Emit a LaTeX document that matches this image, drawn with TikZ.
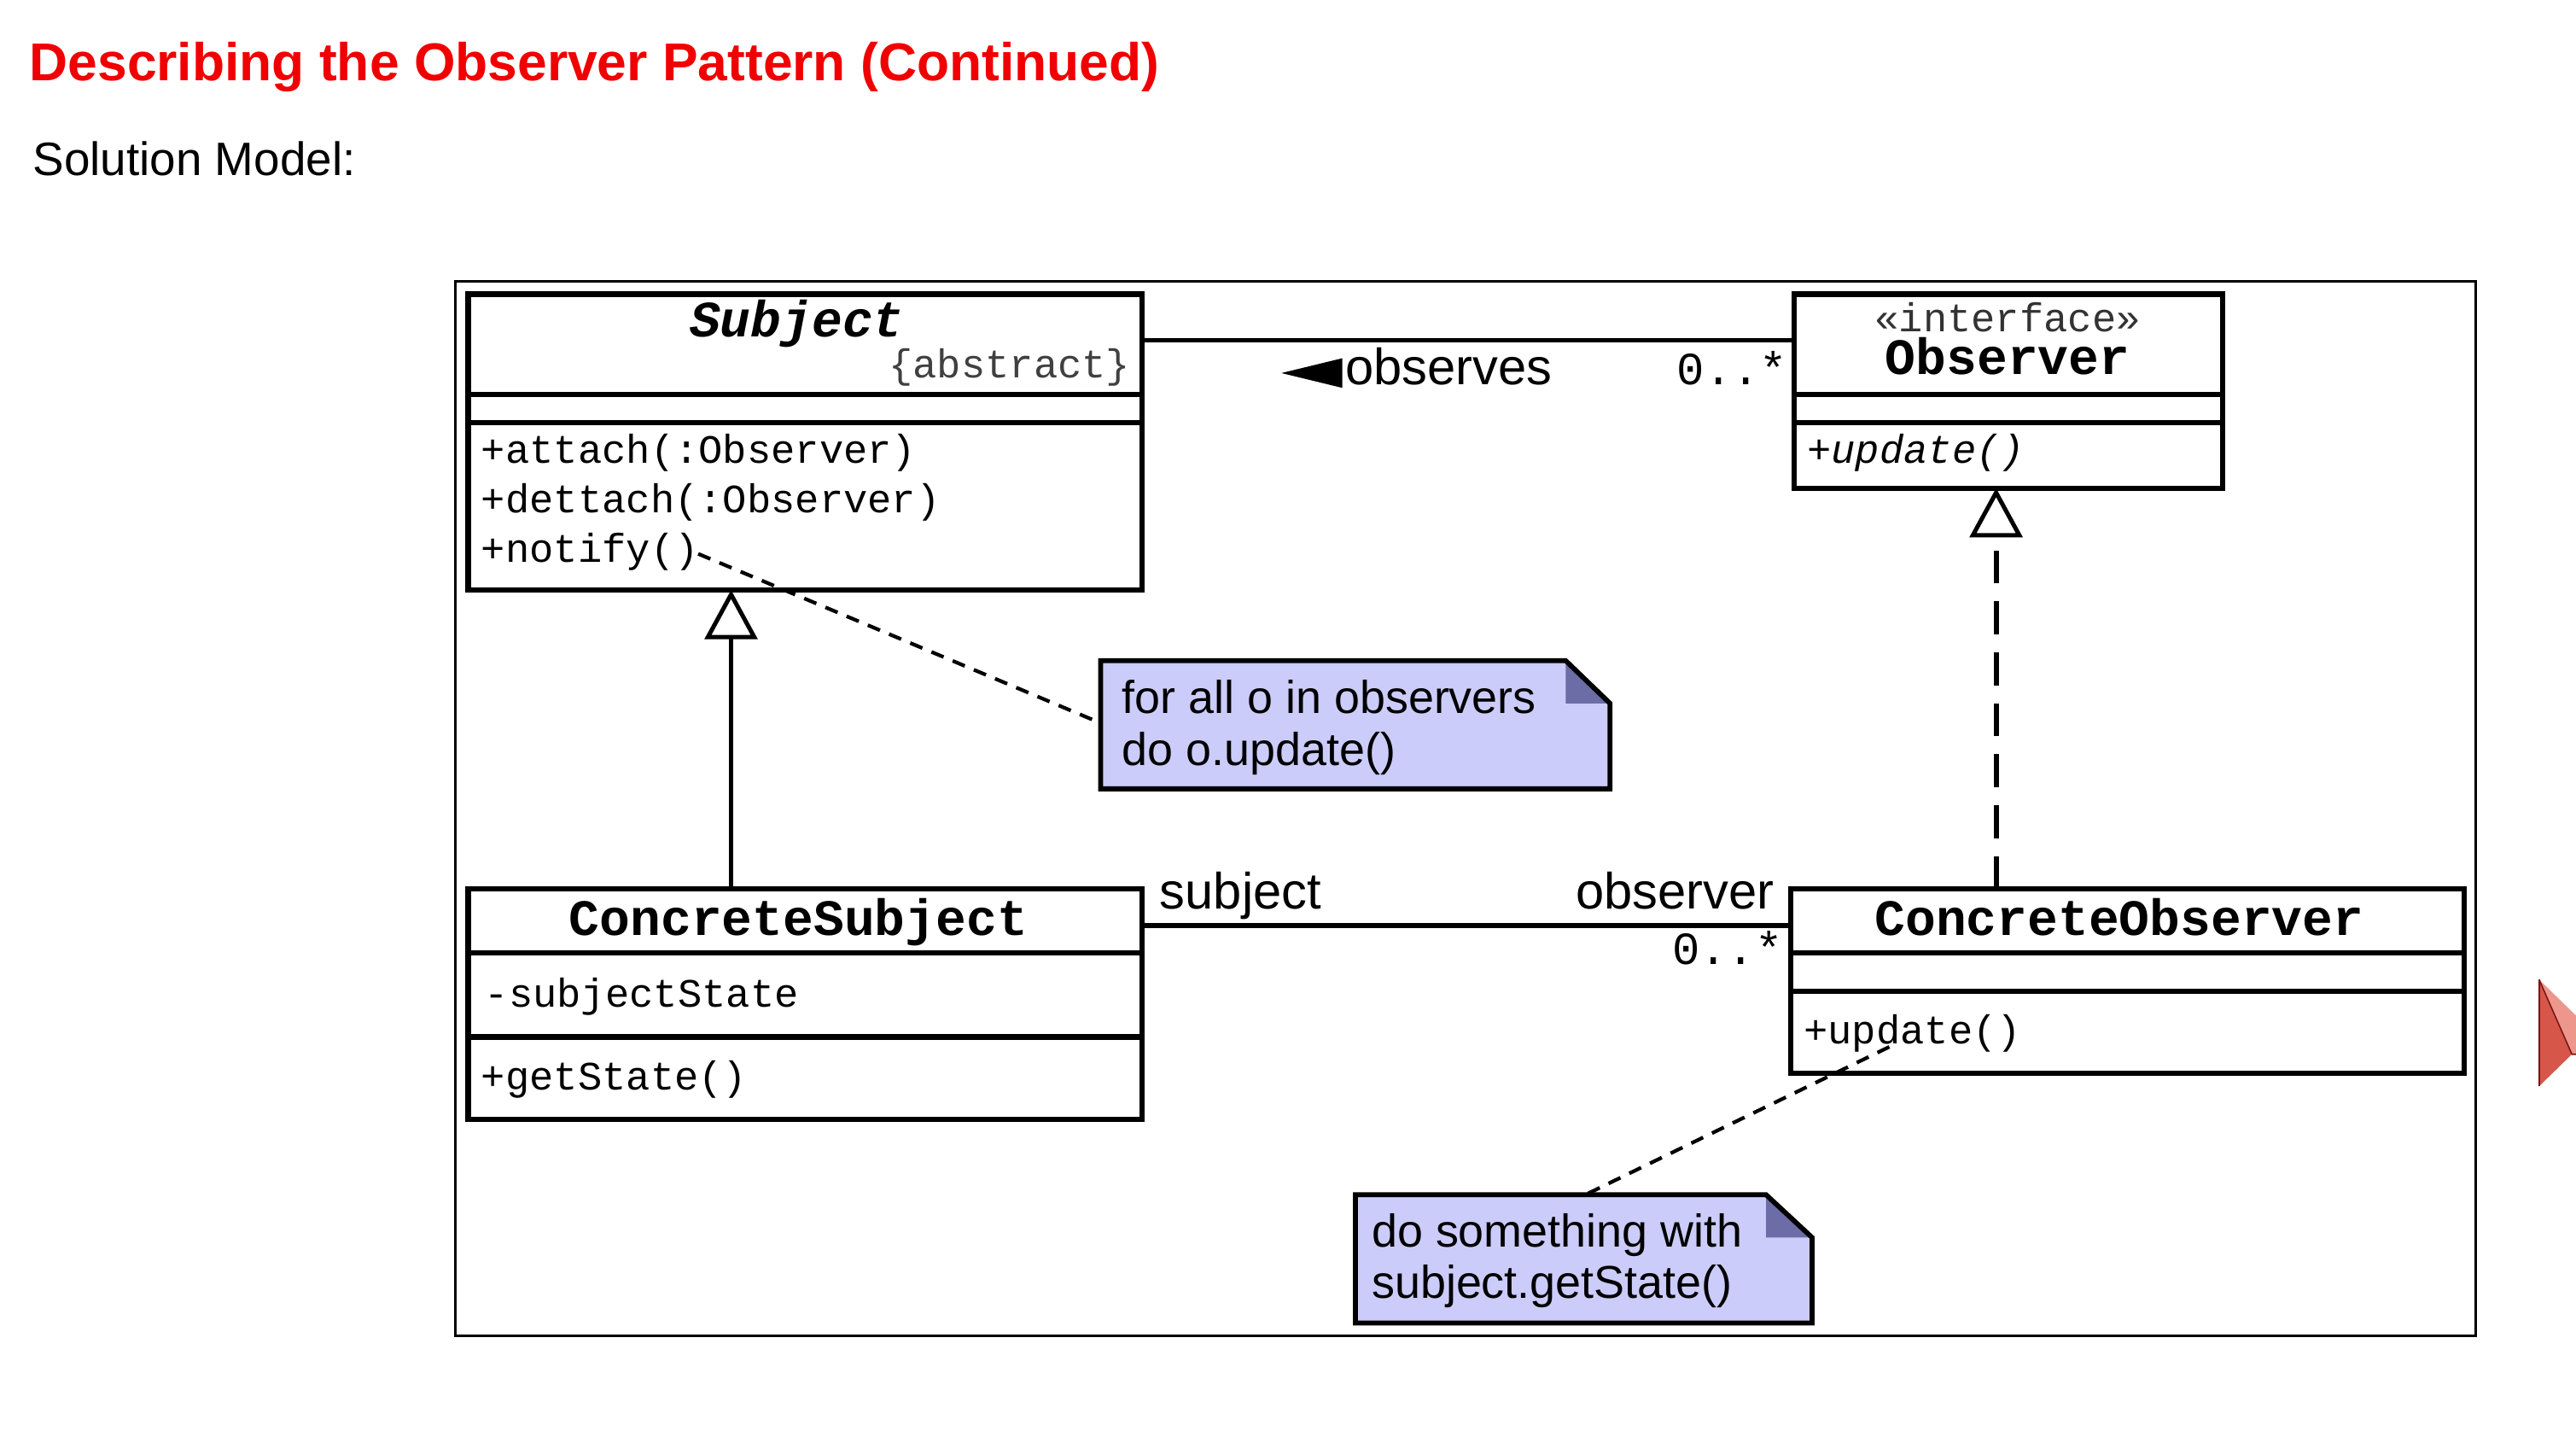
\documentclass[tikz,border=0pt]{standalone}
\usepackage{fontspec}
\setmainfont{Liberation Sans}
\newfontfamily\umlfont{Liberation Mono}
\usetikzlibrary{arrows.meta}
\definecolor{notefill}{RGB}{204,204,250}
\definecolor{notefold}{RGB}{108,108,166}
\definecolor{titlered}{RGB}{240,0,0}
\definecolor{arrowdark}{RGB}{214,86,74}
\definecolor{arrowlight}{RGB}{236,150,140}
\definecolor{arrowedge}{RGB}{120,20,20}
\begin{document}
\begin{tikzpicture}[x=1pt,y=-1pt,
  umlbox/.style={draw,line width=3.2pt,anchor=north west,inner sep=0pt,outer sep=0pt},
  txt/.style={inner sep=0pt,outer sep=0pt},
  mono/.style={txt,font=\umlfont\fontsize{24.5}{28}\selectfont},
  mononame/.style={txt,font=\umlfont\bfseries\fontsize{31}{36}\selectfont},
  multfont/.style={txt,font=\umlfont\fontsize{28}{32}\selectfont},
  rolelabel/.style={txt,font=\fontsize{31}{36}\selectfont},
  notetxt/.style={txt,font=\fontsize{28}{32}\selectfont},
  divider/.style={line width=3.2pt},
  assoc/.style={line width=3pt},
  notelink/.style={line width=2.2pt,dash pattern=on 8pt off 6pt},
  noteoutline/.style={draw,line width=3pt,line join=miter},
  inherit/.style={line width=2.2pt,-{Triangle[open,length=30pt,width=32pt,line width=2.6pt]}},
  realize/.style={line width=3.2pt,dash pattern=on 20pt off 11pt,-{Triangle[open,length=30pt,width=32pt,line width=2.6pt]}},
]
\useasboundingbox (0,0) rectangle (1568,874.4);

% headings
\node[txt,anchor=base west,font=\bfseries\fontsize{32.4}{38}\selectfont,text=titlered] (title) at (18,49) {Describing the Observer Pattern (Continued)};
\node[txt,anchor=base west,font=\fontsize{28.5}{34}\selectfont] (sol) at (20,107) {Solution Model:};

% frame
\node[draw,line width=1.5pt,anchor=north west,inner sep=0pt,outer sep=0pt,minimum width=1230pt,minimum height=642pt] (frame) at (277,171) {};

% Subject
\node[umlbox,minimum width=410pt,minimum height=180pt] (subj) at (285,179) {};
\draw[divider] (subj.west |- 0,240) -- (subj.east |- 0,240);
\draw[divider] (subj.west |- 0,257) -- (subj.east |- 0,257);
\node[txt,anchor=base,font=\umlfont\bfseries\itshape\fontsize{31}{36}\selectfont] (subjname) at (485,205) {Subject};
\node[mono,anchor=base east,text=black!75] (subjabs) at (688,230) {\{abstract\}};
\node[mono,anchor=base west] (m1) at (293,282) {+attach(:Observer)};
\node[mono,anchor=base west] (m2) at (293,312) {+dettach(:Observer)};
\node[mono,anchor=base west] (m3) at (293,342) {+notify()};

% Observer
\node[umlbox,minimum width=261pt,minimum height=118pt] (obs) at (1092,179) {};
\draw[divider] (obs.west |- 0,240) -- (obs.east |- 0,240);
\draw[divider] (obs.west |- 0,257) -- (obs.east |- 0,257);
\node[mono,anchor=base,text=black!80] (obsst) at (1222,202) {«interface»};
\node[mononame,anchor=base] (obsname) at (1222,228) {Observer};
\node[mono,anchor=base west,font=\umlfont\itshape\fontsize{24.5}{28}\selectfont] (obsup) at (1100,282) {+update()};

% ConcreteSubject
\node[umlbox,minimum width=410pt,minimum height=140pt] (csub) at (285,541) {};
\draw[divider] (csub.west |- 0,580) -- (csub.east |- 0,580);
\draw[divider] (csub.west |- 0,631) -- (csub.east |- 0,631);
\node[mononame,anchor=base] (csubname) at (486,569) {ConcreteSubject};
\node[mono,anchor=base west] (csa) at (295,613) {-subjectState};
\node[mono,anchor=base west] (csm) at (293,663) {+getState()};

% ConcreteObserver
\node[umlbox,minimum width=410pt,minimum height=112pt] (cobs) at (1090,541) {};
\draw[divider] (cobs.west |- 0,580) -- (cobs.east |- 0,580);
\draw[divider] (cobs.west |- 0,603) -- (cobs.east |- 0,603);
\node[mononame,anchor=base] (cobsname) at (1290,569) {ConcreteObserver};
\node[mono,anchor=base west] (cobsup) at (1098,635) {+update()};

% associations
\draw[assoc] (subj.east |- 0,207) -- (obs.west |- 0,207);
\fill (780,227) -- (817,218) -- (817,236) -- cycle;
\node[rolelabel,anchor=base west] (obslbl) at (819,234) {observes};
\node[multfont,anchor=base east] (mult1) at (1088,234) {0..*};

\draw[assoc] (csub.east |- 0,563) -- (cobs.west |- 0,563);
\node[rolelabel,anchor=base west] (sublbl) at (706,553) {subject};
\node[rolelabel,anchor=base east] (obsrlbl) at (1080,553) {observer};
\node[multfont,anchor=base east] (mult2) at (1085,587) {0..*};

% generalization and realization
\draw[inherit] (445,0 |- csub.north) -- (445,0 |- subj.south);
\draw[realize] (1215,0 |- cobs.north) -- (1215,0 |- obs.south);

% notes
\node[txt,anchor=north west,minimum width=310pt,minimum height=78pt] (note1) at (670,402) {};
\fill[notefill] (note1.north west) -- ++(283,0) -- ++(27,26) |- (note1.south west) -- cycle;
\fill[notefold] (note1.north east) ++(-27,0) -- ++(0,26) -- ++(27,0) -- cycle;
\draw[noteoutline] (note1.north west) -- ++(283,0) -- ++(27,26) |- (note1.south west) -- cycle;
\node[notetxt,anchor=base west] (n1a) at (683,434) {for all o in observers};
\node[notetxt,anchor=base west] (n1b) at (683,466) {do o.update()};

\node[txt,anchor=north west,minimum width=278pt,minimum height=78pt] (note2) at (825,727) {};
\fill[notefill] (note2.north west) -- ++(250,0) -- ++(28,26) |- (note2.south west) -- cycle;
\fill[notefold] (note2.north east) ++(-28,0) -- ++(0,26) -- ++(28,0) -- cycle;
\draw[noteoutline] (note2.north west) -- ++(250,0) -- ++(28,26) |- (note2.south west) -- cycle;
\node[notetxt,anchor=base west] (n2a) at (835,759) {do something with};
\node[notetxt,anchor=base west] (n2b) at (835,790) {subject.getState()};

% note links
\coordinate (notifyend) at (425,337);
\coordinate (updateend) at (1150,637);
\draw[notelink] (notifyend) -- (note1.west |- 0,440);
\draw[notelink] (updateend) -- (965,0 |- note2.north);

% partial slide arrow at right edge
\fill[arrowlight] (1545.5,596) -- (1568,618) -- (1568,641.5) -- (1565.5,641.5) -- cycle;
\fill[arrowdark] (1545.5,596) -- (1545.5,661) -- (1565.5,641.5) -- cycle;
\draw[arrowedge,line width=0.8pt] (1545.5,596) -- (1545.5,661);
\draw[arrowedge,line width=0.8pt] (1545.5,596) -- (1565.5,641.5) -- (1568,641.5);
\end{tikzpicture}
\end{document}
